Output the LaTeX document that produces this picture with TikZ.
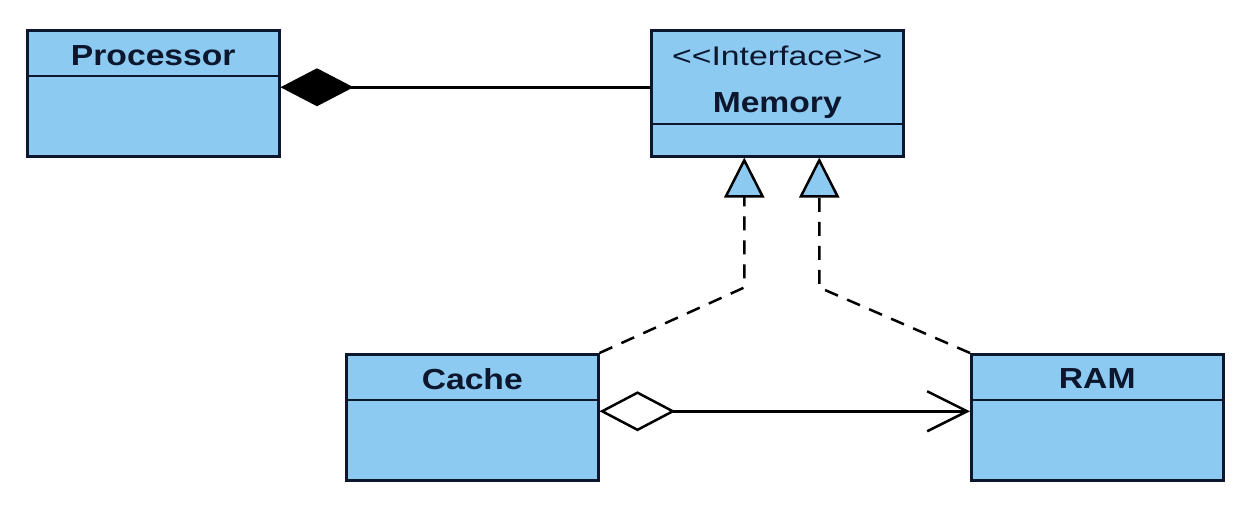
\documentclass[tikz,border=0pt]{standalone}
\usepackage{fontspec}
\setmainfont{Liberation Sans}
\newfontfamily\umlbold[FakeStretch=1.16]{Liberation Sans}
\newfontfamily\umlreg[FakeStretch=1.25]{Liberation Sans}
\usetikzlibrary{arrows.meta}
\definecolor{classfill}{RGB}{140,202,242}
\definecolor{classline}{RGB}{12,22,45}
\begin{document}
\begin{tikzpicture}[x=1pt,y=-1pt,
  classbox/.style={draw=classline, fill=classfill, line width=2.5pt, minimum width=252pt, minimum height=126pt, inner sep=0pt, anchor=north west},
  divider/.style={draw=classline, line width=2.2pt},
  titletext/.style={anchor=base, inner sep=0pt, text=classline, font=\umlbold\bfseries\fontsize{29}{33}\selectfont},
  stereotext/.style={anchor=base, inner sep=0pt, text=classline, font=\umlreg\fontsize{27}{31}\selectfont},
  conn/.style={draw=black, line width=2.5pt},
  realize/.style={conn, dash pattern=on 14pt off 10pt, -{Triangle[length=40pt,width=40pt,fill=classfill,line width=2.5pt]}},
]
\useasboundingbox (0,0) rectangle (1247,523);

% classes
\node[classbox] (proc) at (26,29) {};
\node[classbox] (mem) at (650,29) {};
\node[classbox] (cache) at (345,353) {};
\node[classbox] (ram) at (970,353) {};

% dividers
\draw[divider] ([yshift=-47pt]proc.north west) -- ([yshift=-47pt]proc.north east);
\draw[divider] ([yshift=-95pt]mem.north west) -- ([yshift=-95pt]mem.north east);
\draw[divider] ([yshift=-47pt]cache.north west) -- ([yshift=-47pt]cache.north east);
\draw[divider] ([yshift=-47pt]ram.north west) -- ([yshift=-47pt]ram.north east);

% names
\node[titletext] (proct) at ([yshift=-36pt]proc.north) {Processor};
\node[stereotext] (mems) at ([yshift=-36pt]mem.north) {\textless\textless Interface\textgreater\textgreater};
\node[titletext] (memt) at ([yshift=-83pt]mem.north) {Memory};
\node[titletext] (cachet) at ([yshift=-36pt]cache.north) {Cache};
\node[titletext] (ramt) at ([yshift=-35pt]ram.north) {RAM};

% composition
\draw[conn, {Diamond[length=73pt,width=38pt,fill=black,line width=2.5pt]}-] ([yshift=6pt]proc.east) -- ([yshift=6pt]mem.west);

% realizations
\draw[realize] (cache.north east) -- ([xshift=-33pt,yshift=-130pt]mem.south) -- ([xshift=-33pt]mem.south);
\draw[realize] (ram.north west) -- ([xshift=42pt,yshift=-130pt]mem.south) -- ([xshift=42pt]mem.south);

% aggregation
\draw[conn, {Diamond[length=76pt,width=40pt,fill=white,line width=2.5pt]}-{Straight Barb[length=40pt,width=40pt,line width=2.5pt]}] ([yshift=6pt]cache.east) -- ([yshift=6pt]ram.west);
\end{tikzpicture}
\end{document}
